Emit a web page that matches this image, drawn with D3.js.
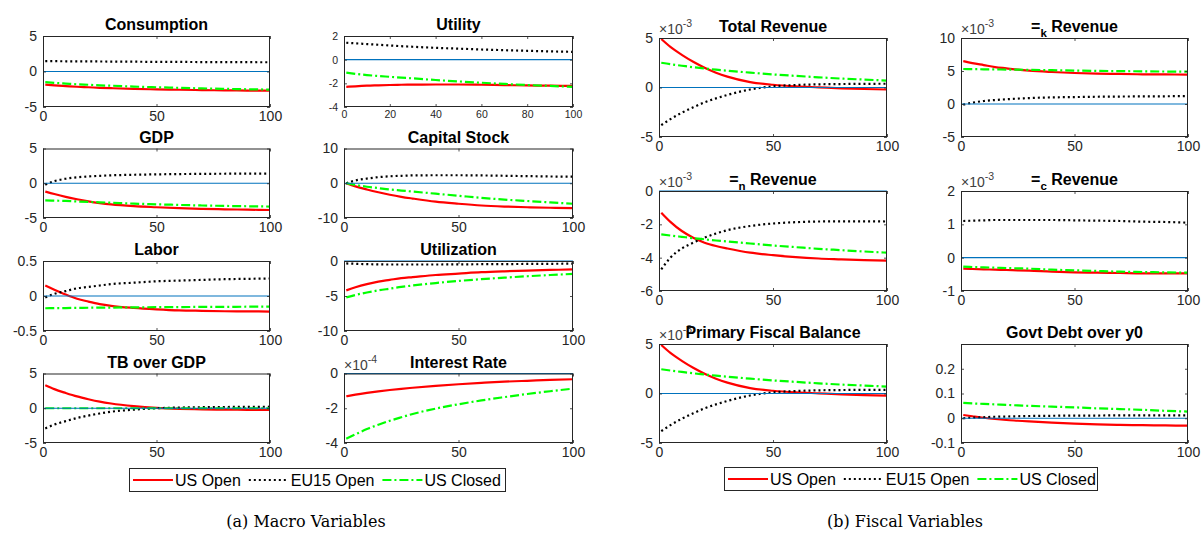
<!DOCTYPE html>
<html><head><meta charset="utf-8">
<script src="https://cdn.jsdelivr.net/npm/d3@7"></script>
<style>body{margin:0;background:#fff} svg{display:block}</style>
</head><body>
<svg id="c" width="1203" height="537"></svg>
<script>
// ---------- DATA ----------
const steps = [1,5,10,15,20,25,30,40,50,60,70,80,90,100];
const seriesNames = ["US Open","EU15 Open","US Closed"];

// (a) Macro variables
const consUS = [-1.85,-1.95,-2.05,-2.15,-2.22,-2.3,-2.35,-2.45,-2.52,-2.57,-2.62,-2.65,-2.68,-2.7];
const consEU = [1.45,1.45,1.44,1.43,1.42,1.41,1.4,1.38,1.36,1.35,1.33,1.32,1.31,1.3];
const consCL = [-1.5,-1.6,-1.7,-1.8,-1.87,-1.95,-2.0,-2.12,-2.22,-2.3,-2.38,-2.45,-2.5,-2.55];

const utilUS = [-2.3,-2.25,-2.2,-2.17,-2.14,-2.12,-2.11,-2.1,-2.1,-2.12,-2.15,-2.18,-2.2,-2.22];
const utilEU = [1.43,1.38,1.32,1.26,1.2,1.14,1.09,1.0,0.93,0.86,0.8,0.75,0.7,0.66];
const utilCL = [-1.1,-1.2,-1.3,-1.38,-1.45,-1.52,-1.58,-1.72,-1.84,-1.95,-2.05,-2.14,-2.22,-2.3];

const gdpUS = [-1.2,-1.55,-1.95,-2.3,-2.6,-2.85,-3.05,-3.3,-3.45,-3.58,-3.68,-3.75,-3.8,-3.85];
const gdpEU = [-0.2,0.3,0.65,0.85,0.98,1.07,1.14,1.22,1.28,1.32,1.35,1.37,1.38,1.4];
const gdpCL = [-2.45,-2.5,-2.55,-2.62,-2.68,-2.74,-2.8,-2.93,-3.03,-3.12,-3.2,-3.26,-3.31,-3.35];

const capUS = [0,-0.9,-1.8,-2.6,-3.3,-3.9,-4.4,-5.3,-5.9,-6.4,-6.7,-6.9,-7.05,-7.15];
const capEU = [0,0.8,1.35,1.75,2.0,2.15,2.25,2.3,2.3,2.25,2.15,2.05,1.95,1.9];
const capCL = [0,-0.5,-1.0,-1.4,-1.8,-2.1,-2.4,-3.0,-3.6,-4.2,-4.7,-5.1,-5.5,-5.9];

const labUS = [0.15,0.09,0.02,-0.04,-0.08,-0.115,-0.14,-0.17,-0.19,-0.205,-0.212,-0.218,-0.22,-0.222];
const labEU = [-0.02,0.03,0.07,0.11,0.13,0.15,0.17,0.19,0.21,0.22,0.23,0.24,0.245,0.25];
const labCL = [-0.175,-0.174,-0.172,-0.17,-0.168,-0.166,-0.165,-0.162,-0.16,-0.158,-0.156,-0.155,-0.153,-0.152];

const utzUS = [-4.2,-3.75,-3.3,-2.95,-2.7,-2.45,-2.3,-2.0,-1.8,-1.6,-1.47,-1.37,-1.28,-1.2];
const utzEU = [-0.35,-0.4,-0.45,-0.48,-0.5,-0.5,-0.5,-0.5,-0.48,-0.46,-0.44,-0.42,-0.4,-0.38];
const utzCL = [-5.2,-4.85,-4.5,-4.2,-3.95,-3.7,-3.5,-3.15,-2.85,-2.6,-2.38,-2.18,-2.0,-1.85];

const tbUS = [3.3,2.75,2.2,1.7,1.3,0.95,0.68,0.3,0.05,-0.08,-0.15,-0.2,-0.23,-0.25];
const tbEU = [-2.9,-2.35,-1.85,-1.4,-1.05,-0.75,-0.5,-0.2,0.0,0.1,0.15,0.18,0.2,0.22];
const tbCL = [0,0,0,0,0,0,0,0,0,0,0,0,0,0];

// interest rate, in units of 1e-4
const irUS = [-1.31,-1.22,-1.12,-1.03,-0.95,-0.88,-0.82,-0.71,-0.62,-0.54,-0.47,-0.42,-0.37,-0.33];
const irEU = [];
const irCL = [-3.75,-3.5,-3.2,-2.95,-2.72,-2.52,-2.33,-2.02,-1.77,-1.55,-1.36,-1.18,-1.02,-0.87];

// (b) Fiscal variables, in units of 1e-3 (except debt)
const trUS = [4.9,4.1,3.3,2.6,2.0,1.5,1.1,0.55,0.28,0.12,0.02,-0.08,-0.15,-0.2];
const trEU = [-3.8,-3.2,-2.55,-2.0,-1.5,-1.1,-0.75,-0.2,0.12,0.25,0.32,0.35,0.37,0.38];
const trCL = [2.5,2.35,2.2,2.05,1.92,1.8,1.7,1.5,1.32,1.17,1.03,0.9,0.8,0.7];

const tkUS = [6.5,6.2,5.9,5.6,5.4,5.2,5.05,4.85,4.7,4.6,4.55,4.5,4.48,4.45];
const tkEU = [-0.1,0.2,0.45,0.6,0.72,0.82,0.9,1.0,1.05,1.1,1.13,1.15,1.17,1.2];
const tkCL = [5.3,5.28,5.26,5.24,5.22,5.2,5.18,5.12,5.07,5.02,4.98,4.95,4.92,4.9];

const tnUS = [-1.3,-1.85,-2.4,-2.8,-3.1,-3.3,-3.45,-3.7,-3.85,-3.97,-4.05,-4.1,-4.15,-4.18];
const tnEU = [-4.7,-4.0,-3.45,-3.1,-2.8,-2.55,-2.35,-2.1,-1.95,-1.87,-1.83,-1.82,-1.82,-1.83];
const tnCL = [-2.6,-2.67,-2.75,-2.83,-2.9,-2.97,-3.03,-3.15,-3.27,-3.37,-3.47,-3.55,-3.63,-3.7];

const tcUS = [-0.33,-0.34,-0.35,-0.36,-0.37,-0.38,-0.39,-0.42,-0.44,-0.45,-0.46,-0.47,-0.47,-0.47];
const tcEU = [1.1,1.11,1.12,1.13,1.13,1.13,1.13,1.13,1.12,1.11,1.1,1.08,1.07,1.05];
const tcCL = [-0.27,-0.28,-0.29,-0.3,-0.31,-0.32,-0.33,-0.36,-0.38,-0.4,-0.42,-0.43,-0.44,-0.45];

const pfUS = [4.9,4.1,3.3,2.6,2.0,1.5,1.1,0.55,0.28,0.12,0.02,-0.08,-0.16,-0.22];
const pfEU = [-3.8,-3.2,-2.55,-2.0,-1.5,-1.1,-0.75,-0.2,0.12,0.25,0.32,0.35,0.37,0.37];
const pfCL = [2.45,2.32,2.18,2.04,1.92,1.8,1.7,1.5,1.32,1.17,1.03,0.9,0.8,0.7];

const debtUS = [0.013,0.008,0.002,-0.003,-0.007,-0.01,-0.013,-0.018,-0.022,-0.025,-0.027,-0.028,-0.029,-0.03];
const debtEU = [0.0,0.002,0.004,0.006,0.007,0.008,0.009,0.01,0.011,0.011,0.012,0.012,0.012,0.012];
const debtCL = [0.062,0.06,0.058,0.056,0.054,0.052,0.05,0.047,0.044,0.04,0.037,0.034,0.03,0.027];

// tick labels
const xTicks50 = [0,50,100];
const xTicks20 = [0,20,40,60,80,100];
const ticksPM5 = [-5,0,5];
const ticksUtil = [-4,-2,0,2];
const ticksCap = [-10,0,10];
const ticksLab = [-0.5,0,0.5];
const ticksUtz = [-10,-5,0];
const ticksIR = [-4,-2,0];
const ticksTk = [-5,0,5,10];
const ticksTn = [-6,-4,-2,0];
const ticksTc = [-1,0,1,2];
const ticksDebt = [-0.1,0,0.1,0.2];

// ---------- LAYOUT ----------
const LX = [[43,270],[344,573]];
const LY = [[36,107],[148.5,218],[261,331],[373.5,443]];
const RX = [[659,887],[961,1188]];
const RY = [[38,137],[191,291],[344,443]];

const panels = [
  {title:"Consumption", s:[consUS,consEU,consCL], yd:[-5,5], yt:ticksPM5, xt:xTicks50, box:[LX[0],LY[0]]},
  {title:"Utility", s:[utilUS,utilEU,utilCL], yd:[-4,2], yt:ticksUtil, xt:xTicks20, box:[LX[1],LY[0]], small:true},
  {title:"GDP", s:[gdpUS,gdpEU,gdpCL], yd:[-5,5], yt:ticksPM5, xt:xTicks50, box:[LX[0],LY[1]]},
  {title:"Capital Stock", s:[capUS,capEU,capCL], yd:[-10,10], yt:ticksCap, xt:xTicks50, box:[LX[1],LY[1]]},
  {title:"Labor", s:[labUS,labEU,labCL], yd:[-0.5,0.5], yt:ticksLab, xt:xTicks50, box:[LX[0],LY[2]]},
  {title:"Utilization", s:[utzUS,utzEU,utzCL], yd:[-10,0], yt:ticksUtz, xt:xTicks50, box:[LX[1],LY[2]]},
  {title:"TB over GDP", s:[tbUS,tbEU,tbCL], yd:[-5,5], yt:ticksPM5, xt:xTicks50, box:[LX[0],LY[3]]},
  {title:"Interest Rate", s:[irUS,irEU,irCL], yd:[-4,0], yt:ticksIR, xt:xTicks50, box:[LX[1],LY[3]], exp:"-4"},
  {title:"Total Revenue", s:[trUS,trEU,trCL], yd:[-5,5], yt:ticksPM5, xt:xTicks50, box:[RX[0],RY[0]], exp:"-3"},
  {title:["=","k"," Revenue"], s:[tkUS,tkEU,tkCL], yd:[-5,10], yt:ticksTk, xt:xTicks50, box:[RX[1],RY[0]], exp:"-3"},
  {title:["=","n"," Revenue"], s:[tnUS,tnEU,tnCL], yd:[-6,0], yt:ticksTn, xt:xTicks50, box:[RX[0],RY[1]], exp:"-3"},
  {title:["=","c"," Revenue"], s:[tcUS,tcEU,tcCL], yd:[-1,2], yt:ticksTc, xt:xTicks50, box:[RX[1],RY[1]], exp:"-3"},
  {title:"Primary Fiscal Balance", s:[pfUS,pfEU,pfCL], yd:[-5,5], yt:ticksPM5, xt:xTicks50, box:[RX[0],RY[2]], exp:"-3"},
  {title:"Govt Debt over y0", s:[debtUS,debtEU,debtCL], yd:[-0.1,0.3], yt:ticksDebt, xt:xTicks50, box:[RX[1],RY[2]]}
];

const FONT = "'Liberation Sans', Arial, Helvetica, sans-serif";
const AX = "#262626";
const styles = [
  {color:"#ff0000", dash:null},
  {color:"#000000", dash:"2,3"},
  {color:"#00ff00", dash:"9,3,2,3"}
];

const svg = d3.select("#c");
svg.append("rect").attr("width",1203).attr("height",537).attr("fill","#fff");

panels.forEach((p, idx) => {
  const [[x0,x1],[y0,y1]] = p.box;
  const x = d3.scaleLinear().domain([0,100]).range([x0,x1]);
  const y = d3.scaleLinear().domain(p.yd).range([y1,y0]);
  const g = svg.append("g");
  const fs = p.small ? 10.5 : 14;

  g.append("rect").attr("x",x0).attr("y",y0).attr("width",x1-x0).attr("height",y1-y0).attr("fill","#fff");

  const cid = "clip"+idx;
  g.append("clipPath").attr("id",cid).append("rect")
    .attr("x",x0-1).attr("y",y0-1).attr("width",x1-x0+2).attr("height",y1-y0+2);
  const plot = g.append("g").attr("clip-path",`url(#${cid})`);

  const line = d3.line().x((d,i)=>x(steps[i])).y(d=>y(d)).curve(d3.curveMonotoneX);
  p.s.forEach((vals, k) => {
    if (!vals.length) return;
    plot.append("path").datum(vals).attr("d",line)
      .attr("fill","none").attr("stroke",styles[k].color).attr("stroke-width",2.2)
      .attr("stroke-dasharray",styles[k].dash);
  });
  plot.append("line").attr("x1",x(0)).attr("x2",x(100)).attr("y1",y(0)).attr("y2",y(0))
    .attr("stroke","#0072bd").attr("stroke-width",1.2);

  const fmt = d => String(+d.toFixed(4));
  const styleAxis = sel => {
    sel.select(".domain").remove();
    sel.selectAll("line").attr("stroke",AX).attr("stroke-width",0.8);
    sel.selectAll("text").attr("fill",AX).style("font-family",FONT).style("font-size",fs+"px");
  };
  g.append("g").attr("transform",`translate(${x0},0)`)
    .call(d3.axisLeft(y).tickValues(p.yt).tickFormat(fmt).tickSize(-3).tickPadding(6)).call(styleAxis);
  g.append("g").attr("transform",`translate(${x1},0)`)
    .call(d3.axisRight(y).tickValues(p.yt).tickFormat("").tickSize(-3)).call(styleAxis);
  g.append("g").attr("transform",`translate(0,${y1})`)
    .call(d3.axisBottom(x).tickValues(p.xt).tickFormat(fmt).tickSize(-3).tickPadding(4)).call(styleAxis);
  g.append("g").attr("transform",`translate(0,${y0})`)
    .call(d3.axisTop(x).tickValues(p.xt).tickFormat("").tickSize(-3)).call(styleAxis);

  g.append("rect").attr("x",x0+0.5).attr("y",y0+0.5).attr("width",x1-x0-1).attr("height",y1-y0-1)
    .attr("fill","none").attr("stroke",AX).attr("stroke-width",1);

  if (p.exp) {
    const t = g.append("text").attr("x",x0).attr("y",y0-4)
      .attr("fill","#404040").style("font-family",FONT).style("font-size","14px");
    t.append("tspan").text("\u00d710");
    t.append("tspan").attr("dy",-7).style("font-size","10.5px").text(p.exp);
  }

  const tt = g.append("text").attr("x",(x0+x1)/2).attr("y",y0-6).attr("text-anchor","middle")
    .attr("fill","#000").style("font-family",FONT).style("font-size","16px").style("font-weight","bold");
  if (Array.isArray(p.title)) {
    tt.append("tspan").text(p.title[0]);
    tt.append("tspan").attr("dy",5).style("font-size","11.5px").text(p.title[1]);
    tt.append("tspan").attr("dy",-5).text(p.title[2]);
  } else {
    tt.text(p.title);
  }
});

function legend(lx, ly, w, h) {
  const g = svg.append("g");
  g.append("rect").attr("x",lx+0.5).attr("y",ly+0.5).attr("width",w).attr("height",h)
    .attr("fill","#fff").attr("stroke",AX).attr("stroke-width",1);
  let cx = lx + 4;
  const cy = ly + h/2 + 0.5;
  seriesNames.forEach((name, k) => {
    g.append("line").attr("x1",cx).attr("x2",cx+40).attr("y1",cy).attr("y2",cy)
      .attr("stroke",styles[k].color).attr("stroke-width",2.2).attr("stroke-dasharray",styles[k].dash);
    const t = g.append("text").attr("x",cx+42).attr("y",cy).attr("dy","0.36em")
      .attr("fill","#000").style("font-family",FONT).style("font-size","16px").text(name);
    cx += 42 + t.node().getComputedTextLength() + 8;
  });
}
legend(129, 468, 376, 23);
legend(724, 467, 373, 23);

const SERIF = "'DejaVu Serif', 'Liberation Serif', serif";
svg.append("text").attr("x",306).attr("y",527).attr("text-anchor","middle")
  .style("font-family",SERIF).style("font-size","16px").attr("fill","#000").text("(a)  Macro Variables");
svg.append("text").attr("x",905).attr("y",527).attr("text-anchor","middle")
  .style("font-family",SERIF).style("font-size","16px").attr("fill","#000").text("(b)  Fiscal Variables");
</script>
</body></html>
